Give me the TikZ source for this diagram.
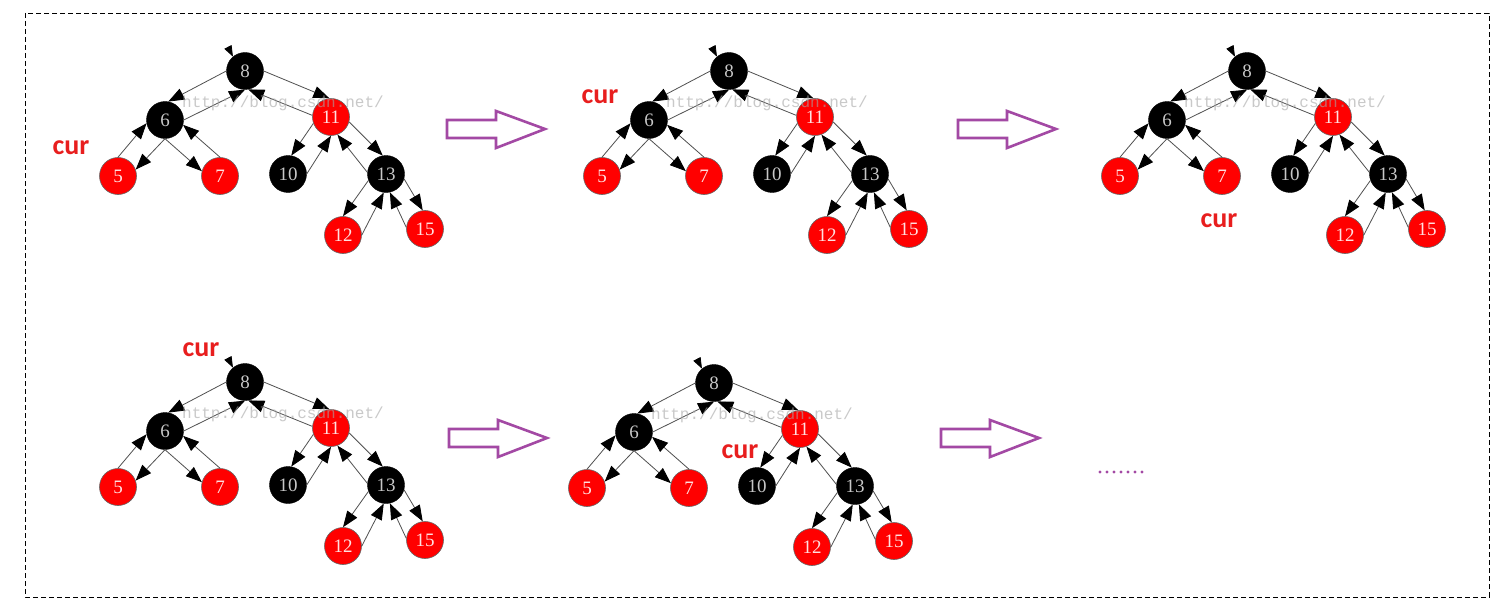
\documentclass[tikz,border=0pt]{standalone}
\usepackage{fontspec}
\setmainfont{Liberation Serif}
\newfontfamily\curfont{Carlito}
\newfontfamily\wmfont{Liberation Mono}
\usetikzlibrary{arrows.meta}
\definecolor{tpurple}{RGB}{163,73,164}
\definecolor{tred}{RGB}{255,0,0}
\definecolor{curred}{RGB}{232,30,30}
\definecolor{edgegray}{RGB}{80,80,80}
\tikzset{
  rbnode/.style={circle,minimum size=37pt,inner sep=0pt,font=\fontsize{19}{19}\selectfont},
  bn/.style={rbnode,fill=black,draw=black,text=black!22},
  rn/.style={rbnode,fill=tred,draw=black!60,line width=0.6pt,text=white!88!red},
  edge/.style={draw=edgegray,line width=0.8pt,-{Triangle[length=16pt,width=12pt,black]}},
  rootmark/.style={draw=black,line width=0.8pt,-{Triangle[length=11pt,width=8pt,black]}},
  wm/.style={font=\wmfont\fontsize{16}{16}\selectfont,text=black!35,opacity=0.6},
  curlabel/.style={font=\curfont\bfseries\fontsize{28}{28}\selectfont,text=curred},
  bigarrow/.style={draw=tpurple,line width=2.6pt,fill=white,line join=miter},
  framebox/.style={draw=black,line width=0.9pt,dash pattern=on 5pt off 3pt}
}
\newcommand\rbtree[3]{%
\begin{scope}[shift={(#2,#3)}]
\node[bn] (#1-8) at (245,71) {8};
\node[bn] (#1-6) at (165,120) {6};
\node[rn] (#1-11) at (331,117) {11};
\node[rn] (#1-5) at (118,176) {5};
\node[rn] (#1-7) at (220,176) {7};
\node[bn] (#1-10) at (288,174) {10};
\node[bn] (#1-13) at (386,174) {13};
\node[rn] (#1-12) at (343,235) {12};
\node[rn] (#1-15) at (425,229) {15};
\coordinate (#1-r) at (229,49);
\draw[rootmark] (#1-r) -- (#1-8.130);
\draw[edge] (#1-8.180) -- (#1-6.80);
\draw[edge] (#1-6.0) -- (#1-8.270);
\draw[edge] (#1-8.0) -- (#1-11.95);
\draw[edge] (#1-11.175) -- (#1-8.280);
\draw[edge] (#1-6.270) -- (#1-5.20);
\draw[edge] (#1-5.90) -- (#1-6.190);
\draw[edge] (#1-6.270) -- (#1-7.165);
\draw[edge] (#1-7.90) -- (#1-6.345);
\draw[edge] (#1-11.200) -- (#1-10.80);
\draw[edge] (#1-10.0) -- (#1-11.270);
\draw[edge] (#1-11.345) -- (#1-13.100);
\draw[edge] (#1-13.175) -- (#1-11.290);
\draw[edge] (#1-13.200) -- (#1-12.90);
\draw[edge] (#1-12.0) -- (#1-13.263);
\draw[edge] (#1-13.345) -- (#1-15.97);
\draw[edge] (#1-15.175) -- (#1-13.282);
\node[wm] (#1-wm) at (283,103) {http://blog.csdn.net/};
\end{scope}}
\newcommand\stepar[2]{%
\draw[bigarrow,shift={(#1,#2)}] (447,120) -- (496,120) -- (496,111) -- (545,129) -- (496,148) -- (496,138) -- (447,138) -- cycle;}
\begin{document}
\begin{tikzpicture}[x=1pt,y=-1pt]
\useasboundingbox[fill=white] (0,0) rectangle (1509,615);
\draw[framebox] (25,13) rectangle (1489,597);
\rbtree{a}{0}{0}
\rbtree{b}{484}{0}
\rbtree{c}{1002}{0}
\rbtree{d}{0}{311}
\rbtree{e}{469}{312}
\stepar{0}{0}
\stepar{511}{0}
\stepar{2}{309}
\stepar{494}{309}
\node[curlabel] (cur1) at (71,148) {cur};
\node[curlabel] (cur2) at (600,97) {cur};
\node[curlabel] (cur3) at (1219,221) {cur};
\node[curlabel] (cur4) at (201,350) {cur};
\node[curlabel] (cur5) at (740,452) {cur};
\foreach \i in {0,...,6} {\fill[tpurple] (1100+7*\i,472) circle (1.6pt);}
\end{tikzpicture}
\end{document}
